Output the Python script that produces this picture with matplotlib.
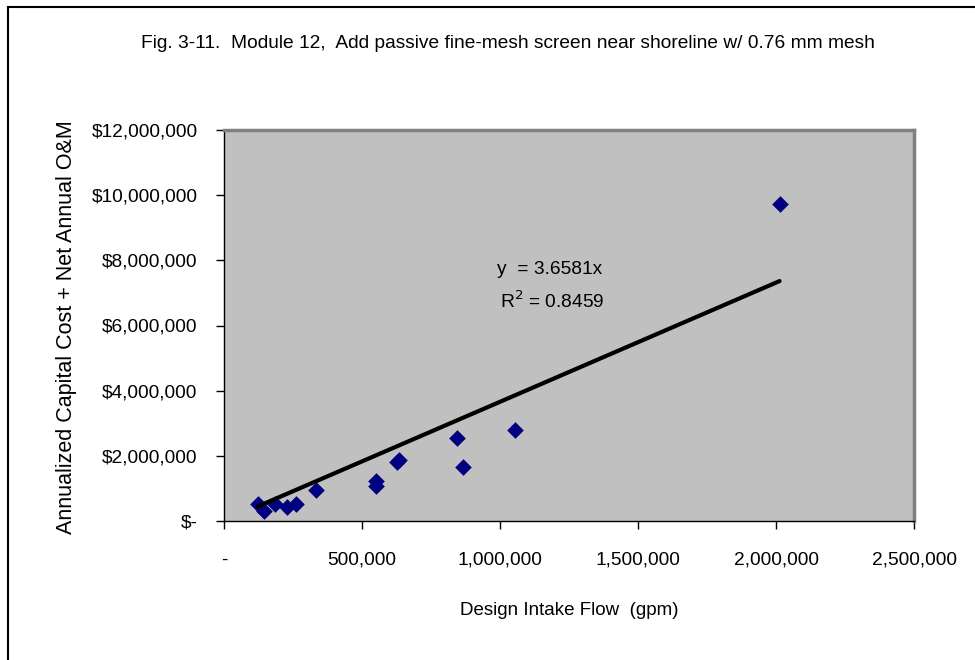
import matplotlib
matplotlib.use("Agg")
import matplotlib.pyplot as plt
from matplotlib.lines import Line2D
from matplotlib.ticker import FuncFormatter
import numpy as np

plt.rcParams['font.family'] = ['Liberation Sans', 'DejaVu Sans']

# design intake flow (gpm) and annualized cost ($)
flow = [122000, 146000, 185000, 230000, 262000, 335000, 551000, 551000,
        627000, 635000, 843000, 867000, 1054000, 2013000]
cost = [510000, 310000, 520000, 440000, 510000, 950000, 1230000, 1070000,
        1800000, 1870000, 2540000, 1650000, 2790000, 9720000]
slope = 3.6581
r2 = 0.8459

x_ticks = [0, 500000, 1000000, 1500000, 2000000, 2500000]
y_ticks = [0, 2000000, 4000000, 6000000, 8000000, 10000000, 12000000]

fig = plt.figure(figsize=(9.75, 6.6), dpi=100)
ax = fig.add_axes([224/975, 1 - 521/660, 690/975, 391/660])
ax.set_facecolor('#C0C0C0')

ax.scatter(flow, cost, marker='D', s=72, color='#000080', zorder=3, linewidths=0)
xs = np.array([min(flow), max(flow)])
ax.plot(xs, slope * xs, color='black', lw=3, zorder=4, solid_capstyle='round')

ax.set_xlim(0, 2500000)
ax.set_ylim(0, 12000000)
ax.set_xticks(x_ticks)
ax.set_yticks(y_ticks)
ax.xaxis.set_major_formatter(FuncFormatter(lambda v, p: '-' if v == 0 else f"{v:,.0f}"))
ax.yaxis.set_major_formatter(FuncFormatter(lambda v, p: '$-' if v == 0 else f"${v:,.0f}"))
ax.tick_params(labelsize=13.8, length=6, width=1, color='black')
ax.tick_params(axis='y', pad=13)
ax.tick_params(axis='x', pad=16)

for s in ['left', 'bottom']:
    ax.spines[s].set_color('black')
    ax.spines[s].set_linewidth(1)
for s in ['top', 'right']:
    ax.spines[s].set_color('#808080')
    ax.spines[s].set_linewidth(2.5)

ax.set_xlabel('Design Intake Flow  (gpm)', fontsize=13.5)
ax.set_ylabel('Annualized Capital Cost + Net Annual O&M', fontsize=15.5)
ax.xaxis.set_label_coords(0.5, -0.207)
ax.yaxis.set_label_coords(-0.213, 0.495)

ax.text(1180000, 7730000, 'y  = 3.6581x', fontsize=13.8, ha='center', va='center')
ax.text(1190000, 6750000, 'R$^2$ = %.4f' % r2, fontsize=13.8, ha='center', va='center')

fig.text(508/975, 1 - 44/660, 'Fig. 3-11.  Module 12,  Add passive fine-mesh screen near shoreline w/ 0.76 mm mesh',
         fontsize=13.8, ha='center', va='center')

# outer frame (only top and left visible)
fig.add_artist(Line2D([8/975, 8/975], [0, 1 - 7/660], color='black', lw=1.5, transform=fig.transFigure))
fig.add_artist(Line2D([8/975, 1], [1 - 7/660, 1 - 7/660], color='black', lw=1.5, transform=fig.transFigure))

fig.savefig('out.png', dpi=100)
